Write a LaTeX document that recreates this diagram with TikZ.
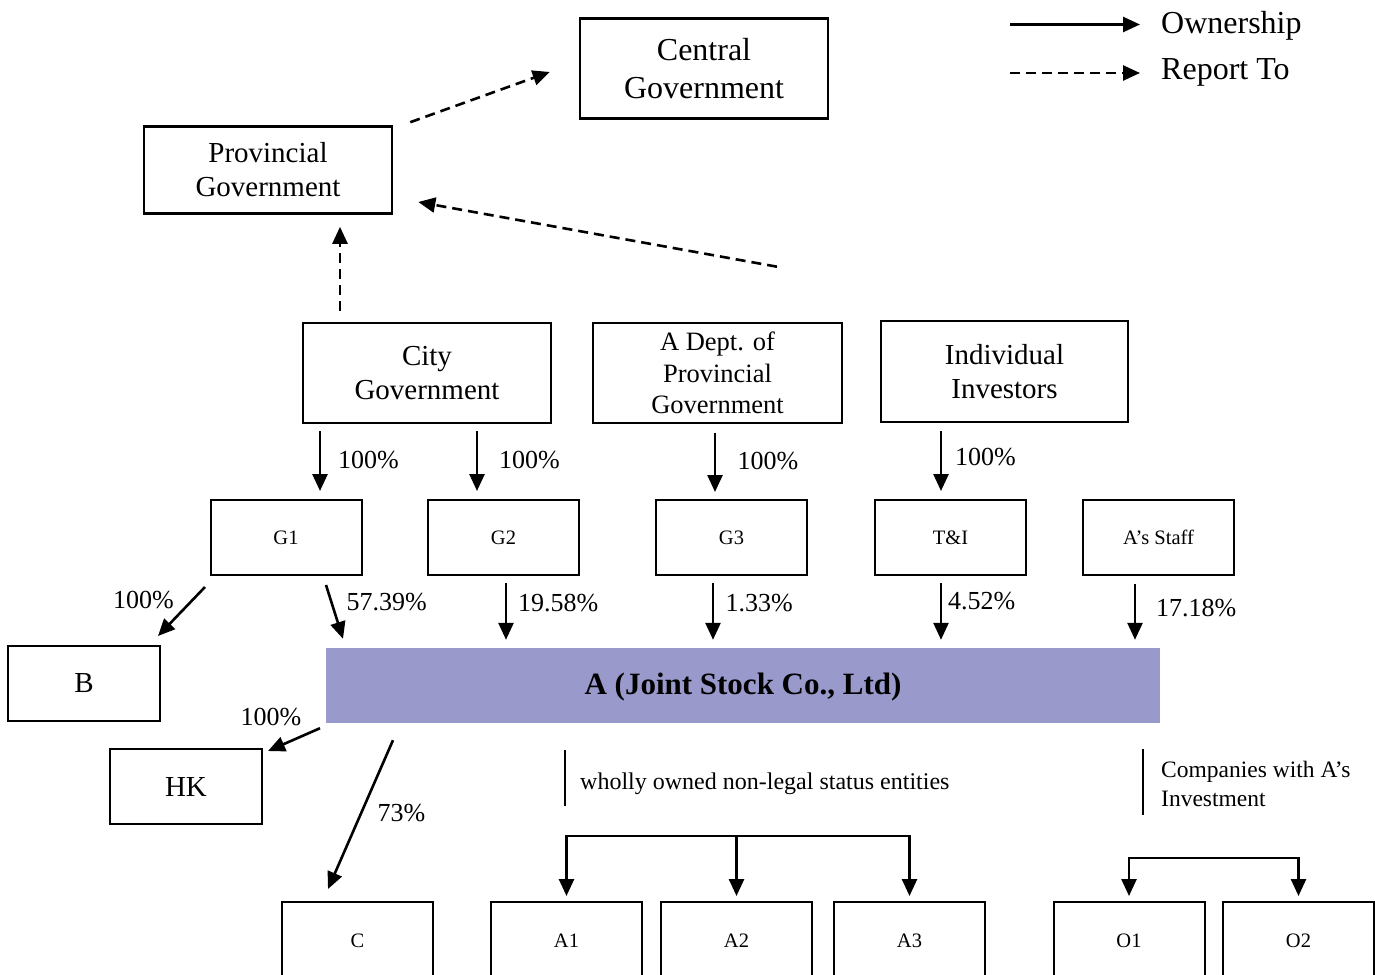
\documentclass[tikz,border=0pt]{standalone}
\usepackage{fontspec}
\setmainfont{Liberation Serif}
\usetikzlibrary{arrows.meta,calc}
\definecolor{jointco}{RGB}{153,153,204}
\tikzset{
  govbox/.style={draw, line width=2.6pt, align=center, inner sep=0pt, minimum width=248pt, minimum height=100pt, font=\fontsize{29}{34}\selectfont},
  firmbox/.style={draw, line width=2pt, inner sep=0pt, minimum width=151pt, minimum height=75pt, font=\fontsize{20.5}{24}\selectfont},
  own/.style={-{Triangle[length=17pt,width=15pt]}, line width=2.6pt},
  report/.style={own, dash pattern=on 10pt off 6pt},
  pct/.style={anchor=west, inner sep=0pt, font=\fontsize{26}{30}\selectfont},
}
\begin{document}
\begin{tikzpicture}[x=1pt, y=-1pt]
\useasboundingbox (0,0) rectangle (1375,974);
% governments
\node[govbox, font=\fontsize{32}{38}\selectfont] (central) at (704,68.5) {Central\\Government};
\node[govbox, minimum height=87pt] (prov) at (268,170) {Provincial\\Government};
\node[govbox] (city) at (427,373) {City\\Government};
\node[govbox, minimum width=249pt, font=\fontsize{26.5}{31.5}\selectfont] (dept) at (717.5,373) {A Dept. of\\Provincial\\Government};
\node[govbox, minimum width=247pt, minimum height=101pt] (indiv) at (1004.5,371.5) {Individual\\Investors};
% shareholders
\node[firmbox] (g1) at (286,537.5) {G1};
\node[firmbox] (g2) at (503.5,537.5) {G2};
\node[firmbox] (g3) at (731.5,537.5) {G3};
\node[firmbox] (ti) at (950.5,537.5) {T\&I};
\node[firmbox] (staff) at (1158.5,537.5) {A’s Staff};
% the company
\node[fill=jointco, minimum width=834pt, minimum height=75pt, inner sep=0pt, text depth=3pt, font=\bfseries\fontsize{31}{36}\selectfont] (abox) at (743,685.5) {A (Joint Stock Co., Ltd)};
\node[firmbox, minimum width=152pt, font=\fontsize{29}{34}\selectfont] (b) at (84,683.5) {B};
\node[firmbox, minimum width=152pt, font=\fontsize{29}{34}\selectfont] (hk) at (186,786.5) {HK};
\node[firmbox, minimum height=78pt] (c) at (357.5,941) {C};
\node[firmbox, minimum height=78pt] (a1) at (566.5,941) {A1};
\node[firmbox, minimum height=78pt] (a2) at (736.5,941) {A2};
\node[firmbox, minimum height=78pt] (a3) at (909.5,941) {A3};
\node[firmbox, minimum height=78pt] (o1) at (1129,941) {O1};
\node[firmbox, minimum height=78pt] (o2) at (1298.5,941) {O2};
% legend
\node[anchor=west, inner sep=0pt, font=\fontsize{32}{38}\selectfont] (lown) at (1161,25.5) {Ownership};
\node[anchor=west, inner sep=0pt, font=\fontsize{32}{38}\selectfont] (lrep) at (1161,72.5) {Report To};
\draw[own] ($(lown.west)+(-151,-1)$) -- ($(lown.west)+(-21,-1)$);
\draw[report] ($(lrep.west)+(-151,0.5)$) -- ($(lrep.west)+(-21,0.5)$);
% report to
\coordinate (deptrep) at ($(dept.north)+(59.5,-55)$);
\draw[report] ($(prov.north east)+(17,-3)$) -- ($(central.west)+(-29,3.5)$);
\draw[report] (deptrep) -- ($(prov.east)+(25,32)$);
\draw[report] ($(city.north)+(-87,-11)$) -- ($(prov.south)+(72,12)$);
% ownership
\draw[own] ($(city.south)+(-107,7)$) -- ($(g1.north)+(34,-8)$);
\draw[own] ($(city.south)+(50,7)$) -- ($(g2.north)+(-26.5,-8)$);
\draw[own] ($(dept.south)+(-2.5,9)$) -- ($(g3.north)+(-16.5,-7)$);
\draw[own] ($(indiv.south)+(-63.5,8)$) -- ($(ti.north)+(-9.5,-8)$);
\draw[own] ($(g1.south)+(-81,11)$) -- ($(b.north)+(74,-9)$);
\draw[own] ($(g1.south)+(40,9)$) -- ($(abox.north)+(-400,-9)$);
\draw[own] ($(g2.south)+(2.5,7)$) -- ($(abox.north)+(-237,-8)$);
\draw[own] ($(g3.south)+(-18.5,7)$) -- ($(abox.north)+(-30,-8)$);
\draw[own] ($(ti.south)+(-9.5,7)$) -- ($(abox.north)+(198,-8)$);
\draw[own] ($(staff.south)+(-23.5,8)$) -- ($(abox.north)+(392,-8)$);
\draw[own] ($(abox.south)+(-423,5)$) -- ($(hk.north)+(82,3)$);
\draw[own] ($(abox.south)+(-350,17)$) -- ($(c.north)+(-29.5,-12)$);
% shares
\node[pct] (p-g1) at (338,460) {100\%};
\node[pct] (p-g2) at (499,460) {100\%};
\node[pct] (p-g3) at (737.5,461.5) {100\%};
\node[pct] (p-ti) at (955,457) {100\%};
\node[pct] (p-b) at (113,600) {100\%};
\node[pct] (p-a1) at (346.5,602.5) {57.39\%};
\node[pct] (p-a2) at (518,603) {19.58\%};
\node[pct] (p-a3) at (725.5,603) {1.33\%};
\node[pct] (p-a4) at (948,601.5) {4.52\%};
\node[pct] (p-a5) at (1156,608) {17.18\%};
\node[pct] (p-hk) at (240.5,717) {100\%};
\node[pct] (p-c) at (377.5,813) {73\%};
% subsidiaries
\node[anchor=west, inner sep=0pt, font=\fontsize{24}{28}\selectfont] (wtxt) at (580,783.5) {wholly owned non-legal status entities};
\node[anchor=west, inner sep=0pt, align=left, font=\fontsize{23.5}{29}\selectfont] (ctxt) at (1161,783.5) {Companies with A’s\\Investment};
\draw[line width=2.6pt] ($(wtxt.west)+(-15,-33.5)$) -- ($(wtxt.west)+(-15,22.5)$);
\draw[line width=2.6pt] ($(ctxt.west)+(-18,-34.5)$) -- ($(ctxt.west)+(-18,31.5)$);
\coordinate (wbar) at ($(a2.north)+(0,-65)$);
\draw[own, shorten >=5pt] (wbar) -| (a1.north);
\draw[own, shorten >=5pt] (wbar) -| (a3.north);
\draw[own, shorten >=5pt] (wbar) -- (a2.north);
\coordinate (obar) at ($($(o1.north)!0.5!(o2.north)$)+(0,-43)$);
\draw[own, shorten >=5pt] (obar) -| (o1.north);
\draw[own, shorten >=5pt] (obar) -| (o2.north);
\end{tikzpicture}
\end{document}
